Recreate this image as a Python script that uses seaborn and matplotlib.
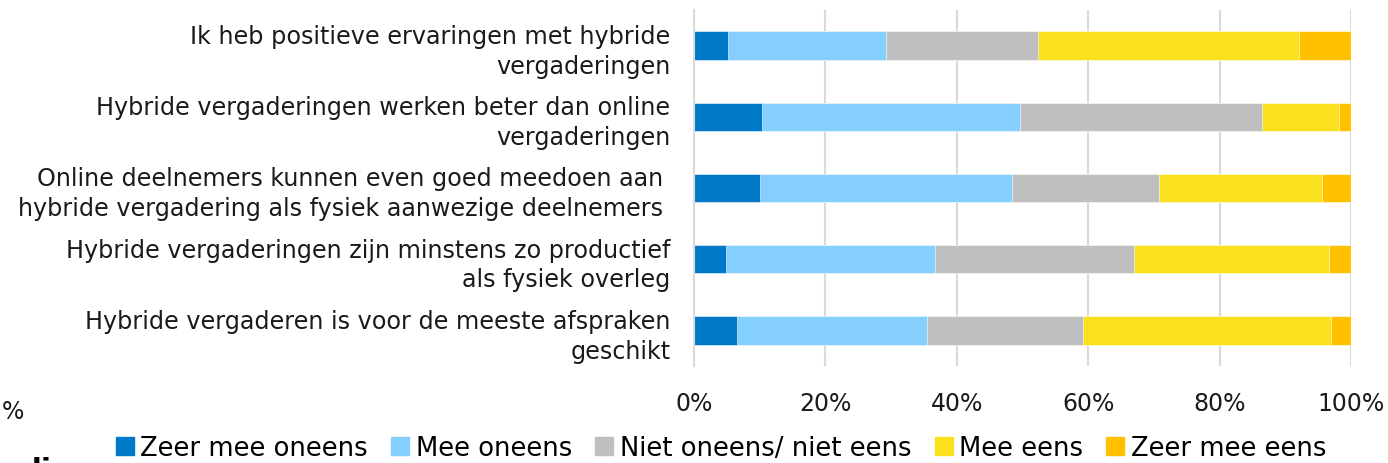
import numpy as np
import seaborn as sns
import matplotlib.pyplot as plt
from matplotlib.patches import Patch
from matplotlib.ticker import FuncFormatter

# stellingen (van boven naar beneden)
stellingen = [
    "Ik heb positieve ervaringen met hybride\nvergaderingen",
    "Hybride vergaderingen werken beter dan online\nvergaderingen",
    "Online deelnemers kunnen even goed meedoen aan \nhybride vergadering als fysiek aanwezige deelnemers ",
    "Hybride vergaderingen zijn minstens zo productief\nals fysiek overleg",
    "Hybride vergaderen is voor de meeste afspraken\ngeschikt",
]
antwoorden = ["Zeer mee oneens", "Mee oneens", "Niet oneens/ niet eens", "Mee eens", "Zeer mee eens"]

# percentages per antwoord, in volgorde van de stellingen
zeer_mee_oneens = [5.2, 10.3, 10.0, 4.8, 6.5]
mee_oneens = [24.0, 39.3, 38.4, 31.9, 29.0]
neutraal = [23.1, 36.8, 22.4, 30.3, 23.7]
mee_eens = [39.8, 11.7, 24.8, 29.7, 37.8]
zeer_mee_eens = [7.9, 1.9, 4.4, 3.3, 3.0]

kleuren = ["#0079C8", "#85CFFF", "#BFBFBF", "#F9E11E", "#FFC000"]

sns.set_style("white")
plt.rcParams['font.family'] = ['DejaVu Sans']
plt.rcParams['text.color'] = 'black'

waarden = np.array([zeer_mee_oneens, mee_oneens, neutraal, mee_eens, zeer_mee_eens])
cumulatief = np.cumsum(waarden, axis=0)

fig = plt.figure(figsize=(13.88, 4.64), dpi=100)
ax = fig.add_axes([0.5, 1 - 367 / 464, 657 / 1388, 356 / 464])

# gestapelde balken: langste eerst tekenen, kortere eroverheen
for i in reversed(range(len(antwoorden))):
    sns.barplot(x=cumulatief[i], y=stellingen, color=kleuren[i], orient="h",
                width=0.4, ax=ax, edgecolor="white", linewidth=0.4, saturation=1)

ax.set_xlim(0, 100)
ax.set_xticks([0, 20, 40, 60, 80, 100])
ax.xaxis.set_major_formatter(FuncFormatter(lambda v, p: f"{v:.0f}%"))
ax.set_xlabel("")
ax.set_ylabel("")
ax.grid(axis="x", color="#d9d9d9", linewidth=1.5)
ax.set_axisbelow(True)
for s in ["top", "right", "bottom"]:
    ax.spines[s].set_visible(False)
ax.spines["left"].set_color("#d9d9d9")
ax.spines["left"].set_linewidth(1.5)
ax.tick_params(axis="y", length=0, pad=17, labelsize=17.2, labelcolor="#1a1a1a")
ax.tick_params(axis="x", length=0, pad=18, labelsize=17, labelcolor="#1a1a1a")
for lbl in ax.get_yticklabels():
    lbl.set_linespacing(1.3)

handles = [Patch(color=c, label=a) for c, a in zip(kleuren, antwoorden)]
fig.legend(handles=handles, loc="center", bbox_to_anchor=(0.5195, 15 / 464), ncol=5,
           frameon=False, fontsize=18.6, handlelength=0.7, handleheight=0.7,
           handletextpad=0.25, columnspacing=0.9, borderaxespad=0)

# restanten van naastgelegen elementen in de uitsnede
fig.text(2 / 1388, 1 - 412 / 464, "%", fontsize=17, va="center", ha="left", color="#1a1a1a")
fig.text(21 / 1388, 1 - 457 / 464, "dic", fontsize=21, fontweight="bold", va="top", ha="left")

fig.savefig("out.png", dpi=100)
